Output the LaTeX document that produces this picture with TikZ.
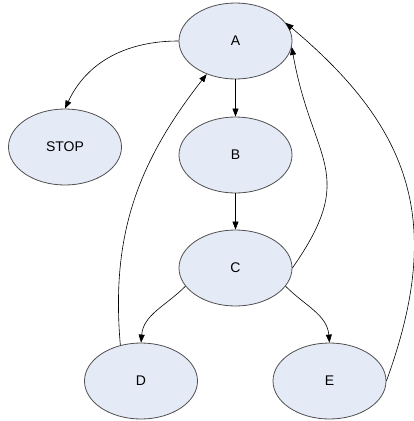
\documentclass[tikz,border=0pt]{standalone}
\usepackage{fontspec}
\setmainfont{Liberation Sans}
\usetikzlibrary{shapes.geometric,arrows.meta}
\definecolor{statefill}{HTML}{E4EAF6}
\definecolor{stateline}{HTML}{505050}
\begin{document}
\begin{tikzpicture}[x=1pt,y=-1pt,
  state/.style={ellipse,draw=stateline,fill=statefill,line width=0.8pt,
    minimum width=113pt,minimum height=76pt,inner sep=0pt,font=\fontsize{14}{16}\selectfont},
  link/.style={draw=black,line width=0.6pt,-{Triangle[length=8pt,width=6pt]}}]
\useasboundingbox (0,0) rectangle (414,421);
\node[state] (A) at (235.5,41) {A};
\node[state] (STOP) at (65,147) {STOP};
\node[state] (B) at (235.5,155) {B};
\node[state] (C) at (235.5,268) {C};
\node[state] (D) at (141,381) {D};
\node[state] (E) at (329.5,381) {E};
\draw[link] (A.west) to[out=180,in=65] (STOP.north);
\draw[link] (A) -- (B);
\draw[link] (B) -- (C);
\draw[link] (C.200) to[out=225,in=85] (D.north);
\draw[link] (C.340) to[out=-45,in=95] (E.north);
\draw[link] (D.120) to[out=95,in=232] (A.229);
\draw[link] (C.east) to[out=55,in=-80,looseness=1.35] (A.-6);
\draw[link] (E.east) to[out=70,in=-40,looseness=1.15] (A.20);
\end{tikzpicture}
\end{document}
